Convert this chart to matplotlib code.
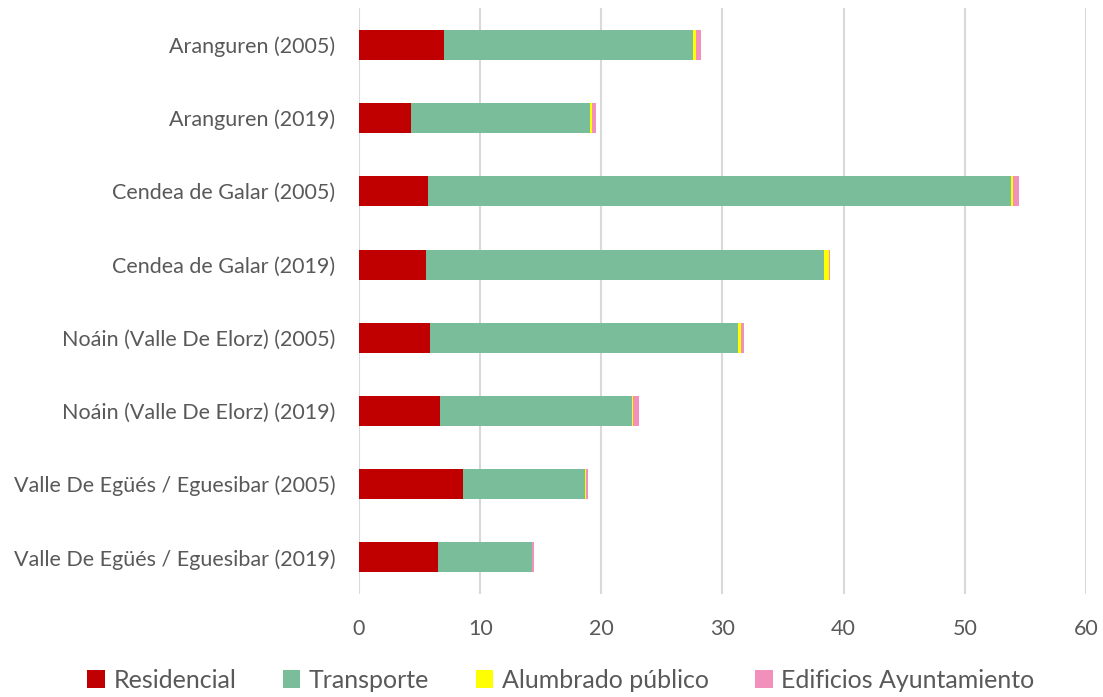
import numpy as np
import matplotlib
matplotlib.use("Agg")
import matplotlib.pyplot as plt

# data
municipios = ["Aranguren (2005)", "Aranguren (2019)", "Cendea de Galar (2005)",
              "Cendea de Galar (2019)", "Noáin (Valle De Elorz) (2005)",
              "Noáin (Valle De Elorz) (2019)", "Valle De Egüés / Eguesibar (2005)",
              "Valle De Egüés / Eguesibar (2019)"]
residencial = [7.0, 4.3, 5.7, 5.56, 5.86, 6.71, 8.58, 6.5]
transporte = [20.56, 14.74, 48.15, 32.81, 25.44, 15.79, 10.07, 7.77]
alumbrado = [0.22, 0.17, 0.16, 0.41, 0.2, 0.15, 0.05, 0.03]
edificios = [0.46, 0.35, 0.44, 0.11, 0.3, 0.45, 0.17, 0.14]

series = [("Residencial", residencial, "#c00000"),
          ("Transporte", transporte, "#7abd9a"),
          ("Alumbrado público", alumbrado, "#ffff00"),
          ("Edificios Ayuntamiento", edificios, "#f190bb")]

plt.rcParams['font.family'] = ['Lato', 'DejaVu Sans']
text_col = "#595959"

fig = plt.figure(figsize=(11.03, 6.97), dpi=100)
ax = fig.add_axes([0.3255, 0.148, 0.659, 0.84])

y = np.arange(len(municipios))
left = np.zeros(len(municipios))
for name, vals, col in series:
    ax.barh(y, vals, left=left, height=0.41, color=col, label=name, zorder=3)
    left += np.array(vals)

ax.set_yticks(y)
ax.set_yticklabels(municipios)
ax.set_ylim(len(municipios) - 0.5, -0.5)
ax.set_xlim(0, 60)
ax.set_xticks(range(0, 61, 10))

ax.grid(axis='x', color='#d9d9d9', linewidth=1.5, zorder=0)
for s in ax.spines.values():
    s.set_visible(False)
ax.tick_params(axis='both', length=0, labelsize=15.5, colors=text_col)
ax.tick_params(axis='y', pad=17)
ax.tick_params(axis='x', pad=18)

fig.legend(loc='center', bbox_to_anchor=(0.5086, 0.024),
           ncol=4, frameon=False, fontsize=18, labelcolor=text_col,
           handlelength=0.7, handleheight=0.7, handletextpad=0.35, columnspacing=1.85)

fig.savefig("out.png", dpi=100)
